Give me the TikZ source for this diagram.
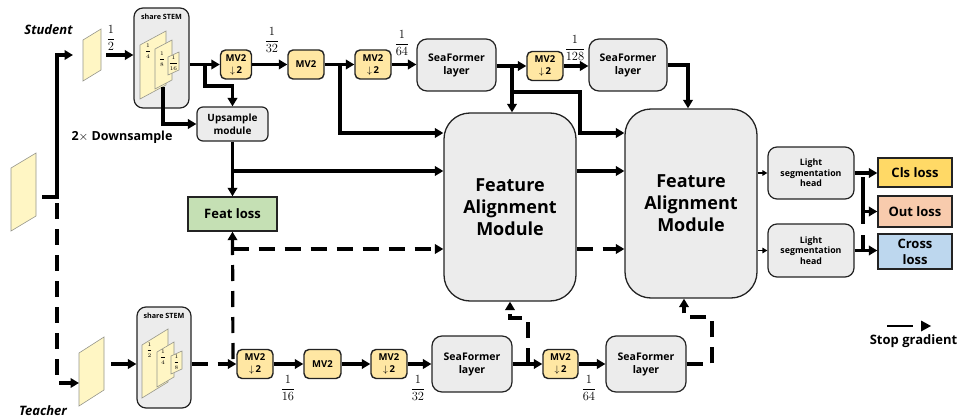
\RequirePackage{fix-cm}
\documentclass[tikz,border=0pt]{standalone}
\usepackage[no-math]{fontspec}
\newfontfamily\osans{Open Sans}
\usetikzlibrary{arrows.meta}
\newcommand{\fr}[2]{$\displaystyle\frac{#1}{#2}$}
\definecolor{boxgray}{RGB}{236,236,236}
\definecolor{mvy}{RGB}{255,231,163}
\definecolor{planey}{RGB}{255,246,196}
\definecolor{planeb}{RGB}{150,150,140}
\definecolor{clsc}{RGB}{255,217,102}
\definecolor{outc}{RGB}{248,203,173}
\definecolor{crossc}{RGB}{189,215,238}
\definecolor{featc}{RGB}{197,224,180}
\definecolor{edge}{RGB}{35,35,35}
\tikzset{
  txt/.style={align=center, inner sep=0pt, font=\osans\bfseries},
  mvbox/.style={txt, draw=edge, fill=mvy, line width=1.4pt, rounded corners=5pt,
    minimum width=36pt, minimum height=29pt, font=\osans\bfseries\fontsize{9.5}{12}\selectfont},
  sfbox/.style={txt, draw=edge, fill=boxgray, line width=1.2pt, rounded corners=10pt,
    minimum width=79pt, minimum height=52pt, font=\osans\bfseries\fontsize{10.5}{13}\selectfont},
  stembox/.style={draw=edge, fill=boxgray, line width=1.2pt, rounded corners=9pt,
    minimum width=55pt, minimum height=100pt, inner sep=0pt},
  fambox/.style={txt, draw=edge, fill=boxgray, line width=1.3pt, rounded corners=26pt,
    minimum width=132pt, minimum height=188pt, font=\osans\bfseries\fontsize{18}{22}\selectfont},
  headbox/.style={txt, draw=edge, fill=boxgray, line width=1.2pt, rounded corners=9pt,
    minimum width=86pt, minimum height=52pt, font=\osans\bfseries\fontsize{8.8}{10.5}\selectfont},
  lossbox/.style={txt, draw=edge, line width=1.4pt, minimum width=74pt,
    font=\osans\bfseries\fontsize{13}{16}\selectfont},
  plane/.style={draw=planeb, fill=planey, line width=0.6pt},
  frac/.style={inner sep=0pt, font=\fontsize{12.5}{14}\selectfont},
  tfrac/.style={inner sep=0pt, font=\fontsize{5.5}{6}\selectfont},
  lbl/.style={txt, font=\osans\bfseries\fontsize{13}{15}\selectfont},
  arr/.style={line width=3.2pt, -{Triangle[length=8.5pt,width=9.5pt]}},
  sgarr/.style={arr, dash pattern=on 16pt off 10pt},
  sarr/.style={line width=1.6pt, -{Triangle[length=5pt,width=5.5pt]}},
  plain/.style={line width=3.2pt}
}
\begin{document}
\begin{tikzpicture}[x=1pt,y=-1pt]
\useasboundingbox (0,0) rectangle (962,420);

% row levels
\coordinate (r133) at (0,133);
\coordinate (r171) at (0,171);
\coordinate (r249) at (0,249);
\coordinate (r318) at (0,318);
\coordinate (r317) at (0,317);
\coordinate (c688) at (688,0);
\coordinate (c684) at (684,0);

% labels
\node[lbl, font=\osans\bfseries\itshape\fontsize{13}{15}\selectfont] (stud) at (48.5,30) {Student};
\node[lbl, font=\osans\bfseries\itshape\fontsize{13}{15}\selectfont] (teach) at (43,411) {Teacher};
\node[lbl, font=\osans\bfseries\fontsize{12.5}{15}\selectfont] (down) at (122,137.5) {2$\times$ Downsample};

% input images
\draw[plane] (11,168) -- (36,153) -- (36,216) -- (11,231) -- cycle;
\coordinate (inR) at (42,197);
\draw[plane] (83,40) -- (101,29) -- (101,70) -- (83,81) -- cycle;
\coordinate (simgL) at (73,55);
\coordinate (simgR) at (106,55);
\draw[plane] (79,353) -- (104,337) -- (104,390) -- (79,406) -- cycle;
\coordinate (timgL) at (79,383);
\coordinate (timgR) at (111,364);

\node[frac] (f12) at (111,38) {\fr{1}{2}};

% stems
\node[stembox] (stemS) at (161.5,58) {};
\node[txt, font=\osans\bfseries\fontsize{7.2}{8}\selectfont] (stemSl) at (161.5,17) {share STEM};
\draw[plane] (140,45) -- (166,31) -- (166,85) -- (140,99) -- cycle;
\draw[plane] (155,49) -- (172,40) -- (172,80) -- (155,89) -- cycle;
\draw[plane] (168,57) -- (179,52) -- (179,70) -- (168,75) -- cycle;
\node[tfrac] (s14) at (148,51) {\fr{1}{4}};
\node[tfrac] (s18) at (162,59) {\fr{1}{8}};
\node[tfrac] (s116) at (173.5,63) {\fr{1}{16}};

\node[stembox, minimum width=54pt, minimum height=101pt] (stemT) at (164,357.5) {};
\node[txt, font=\osans\bfseries\fontsize{7.2}{8}\selectfont] (stemTl) at (164,316) {share STEM};
\draw[plane] (142,345) -- (168,329) -- (168,382) -- (142,398) -- cycle;
\draw[plane] (157,352) -- (174,342) -- (174,377) -- (157,387) -- cycle;
\draw[plane] (171,356) -- (182,351) -- (182,369) -- (171,374) -- cycle;
\node[tfrac] (t12) at (149.5,350) {\fr{1}{2}};
\node[tfrac] (t14) at (163,357) {\fr{1}{4}};
\node[tfrac] (t18) at (176.5,362) {\fr{1}{8}};

% student row
\node[mvbox, minimum width=31pt] (mv2a) at (236,64.5) {MV2\\$\downarrow$\,2};
\node[mvbox] (mv2b) at (306,64.5) {MV2};
\node[mvbox] (mv2c) at (373,64.5) {MV2\\$\downarrow$\,2};
\node[sfbox] (sf1) at (456.5,65) {SeaFormer\\layer};
\node[mvbox] (mv2d) at (545,66) {MV2\\$\downarrow$\,2};
\node[sfbox, minimum width=78pt] (sf2) at (628,65) {SeaFormer\\layer};
\node[frac] (f132) at (272,40) {\fr{1}{32}};
\node[frac] (f164) at (402,43) {\fr{1}{64}};
\node[frac] (f1128) at (575,48) {\fr{1}{128}};

\node[txt, draw=edge, fill=boxgray, line width=1.2pt, rounded corners=6pt,
  minimum width=71pt, minimum height=34pt, font=\osans\bfseries\fontsize{10}{13}\selectfont]
  (up) at (232.5,124) {Upsample\\module};
\node[lossbox, fill=featc, minimum width=89pt, minimum height=34pt] (feat) at (232.5,214) {Feat loss};

\node[fambox] (fam1) at (510,207) {Feature\\Alignment\\Module};
\node[fambox, minimum height=189pt] (fam2) at (691,203.5) {Feature\\Alignment\\Module};

\node[headbox] (head1) at (811,173) {Light\\segmentation\\head};
\node[headbox, minimum height=53pt] (head2) at (811,250.5) {Light\\segmentation\\head};
\node[lossbox, fill=clsc, minimum height=29pt] (cls) at (915,172.5) {Cls loss};
\node[lossbox, fill=outc, minimum height=31pt] (out) at (915,211.5) {Out loss};
\node[lossbox, fill=crossc, minimum height=35pt] (cross) at (915,251.5) {Cross\\loss};

% teacher row
\node[mvbox] (mv2e) at (255,364) {MV2\\$\downarrow$\,2};
\node[mvbox, minimum width=37pt] (mv2f) at (322.5,364) {MV2};
\node[mvbox] (mv2g) at (389,364) {MV2\\$\downarrow$\,2};
\node[sfbox, minimum width=80pt, minimum height=56pt] (sf3) at (472,364) {SeaFormer\\layer};
\node[mvbox, minimum width=35pt] (mv2h) at (560.5,364) {MV2\\$\downarrow$\,2};
\node[sfbox, minimum width=80pt, minimum height=56pt] (sf4) at (646,364) {SeaFormer\\layer};
\node[frac] (f116) at (288,388) {\fr{1}{16}};
\node[frac] (f132t) at (418,388) {\fr{1}{32}};
\node[frac] (f164t) at (589,388) {\fr{1}{64}};

% ---------- connectors ----------
\draw[arr] (inR) -- (57,197) -- (57,55) -- (simgL);
\draw[sgarr] (57,203) -- (57,383) -- (timgL);
\draw[arr] (simgR) -- (simgR -| stemS.west);
\draw[arr] (timgR) -- (timgR -| stemT.west);

\coordinate (j1) at (205,64.5);
\draw[arr] (stemS.east |- mv2a) -- (mv2a.west);
\draw[arr] (j1) -- (205,86) -| (up.north);
\draw[arr] (163,87) |- (up.west);

\draw[arr] (mv2a.east) -- (mv2b.west);
\draw[arr] (mv2b.east) -- (mv2c.west);
\coordinate (j2) at (340,64.5);
\draw[arr] (j2) |- (fam1.west |- r133);
\draw[arr] (mv2c.east) -- (mv2c.east -| sf1.west);
\draw[arr] (sf1.east |- mv2d) -- (mv2d.west);
\coordinate (j3) at (512,66);
\draw[arr] (j3) -- (j3 |- fam1.north);
\draw[arr] (512,92) -- (580,92) -- (580,133) -- (fam2.west |- r133);
\draw[arr] (mv2d.east) -- (mv2d.east -| sf2.west);
\draw[arr] (sf2.east) -| (c688 |- fam2.north);

\draw[arr] (up.south) -- (feat.north);
\draw[arr] (up.south |- r171) -- (fam1.west |- r171);
\draw[arr] (fam1.east |- r171) -- (fam2.west |- r171);

\draw[sgarr] (stemT.east |- mv2e) -- (mv2e.west);
\draw[sgarr] (233,359) -- (feat.south);
\draw[sgarr] (feat.south |- r249) -- (fam1.west |- r249);
\draw[sgarr] (fam1.east |- r249) -- (fam2.west |- r249);

\draw[arr] (mv2e.east) -- (mv2f.west);
\draw[arr] (mv2f.east) -- (mv2g.west);
\draw[arr] (mv2g.east) -- (mv2g.east -| sf3.west);
\draw[arr] (sf3.east) -- (sf3.east -| mv2h.west);
\draw[arr] (mv2h.east) -- (mv2h.east -| sf4.west);
\draw[sgarr] (528,364) |- (fam1.south |- r318) -- (fam1.south);
\draw[sgarr] (sf4.east) -- (712,364) |- (c684 |- r317) -- (c684 |- fam2.south);

\draw[sarr] (fam2.east |- head1) -- (head1.west);
\draw[sarr] (fam2.east |- head2) -- (head2.west);
\draw[arr] (head1.east) -- (head1.east -| cls.west);
\draw[plain] (863,177) -- (863,224);
\draw[arr] (863,211.5) -- (out.west);
\draw[arr] (head2.east) -- (head2.east -| cross.west);
\draw[plain] (863,235) -- (863,251.5);

% legend
\coordinate (lg1) at (887,326);
\coordinate (lg2) at (913,326);
\draw[line width=2.6pt] (lg1) -- (lg2);
\fill (921,320.5) -- (931,326) -- (921,331.5) -- cycle;
\node[lbl] (stopg) at (913.5,341) {Stop gradient};
\end{tikzpicture}
\end{document}
